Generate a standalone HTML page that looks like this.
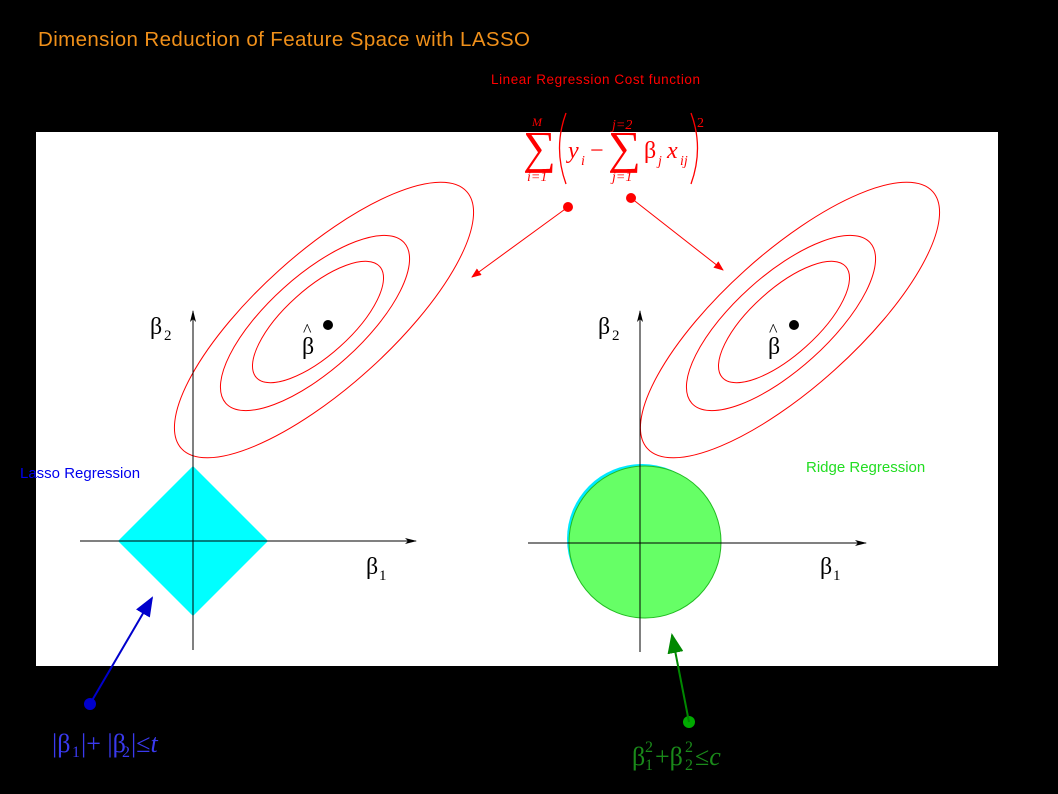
<!DOCTYPE html>
<html><head><meta charset="utf-8"><style>
body{margin:0;background:#000;width:1058px;height:794px;overflow:hidden;font-family:"Liberation Sans",sans-serif}
svg{display:block}
.m{font-family:"Liberation Serif",serif}
</style></head><body>
<svg width="1058" height="794">
<defs>
<marker id="ar" markerWidth="10" markerHeight="8" refX="9" refY="4" orient="auto"><path d="M0,0 L10,4 L0,8 Z" fill="red"/></marker>
<marker id="ab" markerWidth="10" markerHeight="8" refX="9" refY="4" orient="auto"><path d="M0,0 L10,4 L0,8 Z" fill="#00c"/></marker>
<marker id="ag" markerWidth="10" markerHeight="8" refX="9" refY="4" orient="auto"><path d="M0,0 L10,4 L0,8 Z" fill="#080"/></marker>
<marker id="ak" markerWidth="12" markerHeight="6" refX="11" refY="3" orient="auto"><path d="M0,0 L12,3 L0,6 L3,3 Z" fill="#000"/></marker>
</defs>
<text x="38" y="46" fill="#f0901a" font-size="20.5" textLength="492">Dimension Reduction of Feature Space with LASSO</text>
<rect x="36" y="132" width="962" height="534" fill="#fff"/>
<text x="491" y="84" fill="red" font-size="13.5" textLength="209">Linear Regression Cost function</text>
<g class="m" fill="red">
<text x="523" y="163" font-size="46">∑</text>
<text x="532" y="126" font-size="12" font-style="italic">M</text>
<text x="527" y="181" font-size="14" font-style="italic">i=1</text>
<path d="M566,113 Q553,148 566,184" fill="none" stroke="red" stroke-width="1.3"/>
<text x="568" y="158" font-size="24" font-style="italic">y</text>
<text x="581" y="165" font-size="14" font-style="italic">i</text>
<text x="590" y="158" font-size="24">−</text>
<text x="608" y="163" font-size="46">∑</text>
<text x="612" y="129" font-size="14" font-style="italic">j=2</text>
<text x="612" y="181" font-size="14" font-style="italic">j=1</text>
<text x="644" y="158" font-size="24">β</text>
<text x="658" y="165" font-size="14" font-style="italic">j</text>
<text x="667" y="158" font-size="24" font-style="italic">x</text>
<text x="680" y="165" font-size="14" font-style="italic">ij</text>
<path d="M691,113 Q704,148 691,184" fill="none" stroke="red" stroke-width="1.3"/>
<text x="697" y="127" font-size="14">2</text>
</g>
<g fill="none" stroke="red" stroke-width="1">
<ellipse cx="324" cy="320" rx="192" ry="67" transform="rotate(-42 324 320)"/>
<ellipse cx="315" cy="323" rx="120" ry="47" transform="rotate(-42 315 323)"/>
<ellipse cx="318" cy="322" rx="83" ry="33" transform="rotate(-42 318 322)"/>
</g>
<g fill="none" stroke="red" stroke-width="1">
<ellipse cx="790" cy="320" rx="192" ry="67" transform="rotate(-42 790 320)"/>
<ellipse cx="781" cy="323" rx="120" ry="47" transform="rotate(-42 781 323)"/>
<ellipse cx="784" cy="322" rx="83" ry="33" transform="rotate(-42 784 322)"/>
</g>
<circle cx="328" cy="325" r="5" fill="#000"/><circle cx="794" cy="325" r="5" fill="#000"/>
<g class="m" font-size="24" fill="#000">
<text x="302" y="354">β</text><text x="303" y="336" font-size="18">^</text>
<text x="768" y="354">β</text><text x="769" y="336" font-size="18">^</text>
<text x="150" y="334">β</text><text x="164" y="340" font-size="15">2</text>
<text x="598" y="334">β</text><text x="612" y="340" font-size="15">2</text>
<text x="366" y="574">β</text><text x="379" y="580" font-size="15">1</text>
<text x="820" y="574">β</text><text x="833" y="580" font-size="15">1</text>
</g>
<polygon points="193,466 268,541 193,616 118,541" fill="#00ffff"/>
<circle cx="642" cy="539" r="75" fill="#00e8ff"/>
<circle cx="645" cy="542" r="76" fill="#66ff66" stroke="#22bb22" stroke-width="1"/>
<g stroke="#000" stroke-width="1">
<line x1="80" y1="541" x2="416" y2="541" marker-end="url(#ak)"/>
<line x1="193" y1="650" x2="193" y2="311" marker-end="url(#ak)"/>
<line x1="528" y1="543" x2="866" y2="543" marker-end="url(#ak)"/>
<line x1="640" y1="652" x2="640" y2="311" marker-end="url(#ak)"/>
</g>
<text x="20" y="478" fill="#0000ee" font-size="15">Lasso Regression</text>
<text x="806" y="472" fill="#22dd22" font-size="15">Ridge Regression</text>
<circle cx="568" cy="207" r="5" fill="red"/><line x1="568" y1="207" x2="472" y2="277" stroke="red" marker-end="url(#ar)"/>
<circle cx="631" cy="198" r="5" fill="red"/><line x1="631" y1="198" x2="723" y2="270" stroke="red" marker-end="url(#ar)"/>
<circle cx="90" cy="704" r="6" fill="#00c"/><line x1="90" y1="704" x2="152" y2="598" stroke="#00c" stroke-width="2" marker-end="url(#ab)"/>
<circle cx="689" cy="722" r="6" fill="#0a0"/><line x1="689" y1="722" x2="672" y2="635" stroke="#080" stroke-width="2" marker-end="url(#ag)"/>
<g class="m" fill="#3a3aee" font-size="26">
<text x="52" y="752">|β</text><text x="72" y="757" font-size="16">1</text><text x="81" y="752">|+ |β</text><text x="122" y="757" font-size="16">2</text><text x="131" y="752">|≤<tspan font-style="italic">t</tspan></text>
</g>
<g class="m" fill="#1a8a1a" font-size="26">
<text x="632" y="765">β</text><text x="645" y="770" font-size="16">1</text><text x="645" y="752" font-size="16">2</text>
<text x="655" y="765">+β</text><text x="685" y="770" font-size="16">2</text><text x="685" y="752" font-size="16">2</text>
<text x="695" y="765">≤<tspan font-style="italic">c</tspan></text>
</g>
</svg>
</body></html>
